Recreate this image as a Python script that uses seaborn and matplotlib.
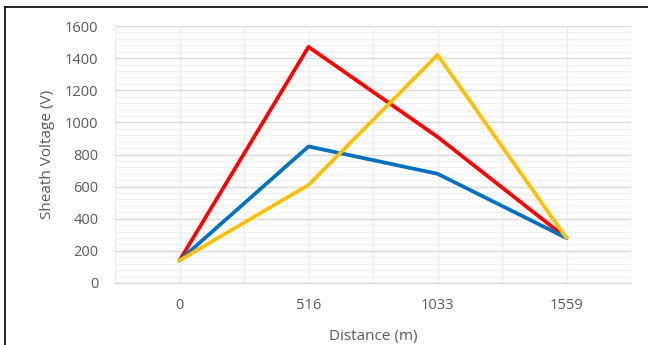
import matplotlib
matplotlib.use("Agg")
import matplotlib.pyplot as plt
from matplotlib.lines import Line2D
from matplotlib.ticker import MultipleLocator
import numpy as np
import pandas as pd
import seaborn as sns

# Sheath voltage along the cable route
distances = ["0", "516", "1033", "1559"]
series_names = ["Case A", "Case B", "Case C"]
case_a = [140, 1470, 910, 280]   # red
case_b = [140, 850, 680, 280]    # blue
case_c = [140, 610, 1420, 280]   # yellow
colors = {"Case A": "#FF0000", "Case B": "#0070C0", "Case C": "#FFC000"}

rows = []
for name, vals in zip(series_names, [case_a, case_b, case_c]):
    for i, (d, v) in enumerate(zip(distances, vals)):
        rows.append({"pos": i, "distance": d, "voltage": v, "series": name})
df = pd.DataFrame(rows)

sns.set_theme(style="white")
plt.rcParams["font.family"] = ["Open Sans", "DejaVu Sans"]

fig = plt.figure(figsize=(6.48, 3.45), dpi=100)
ax = fig.add_axes([115 / 648, 1 - 283 / 345, (631 - 115) / 648, (283 - 26) / 345])

# gridlines first so the data lines sit on top
ax.set_ylim(0, 1600)
ax.set_xlim(-0.5, len(distances) - 0.5)
ax.yaxis.set_major_locator(MultipleLocator(200))
ax.yaxis.set_minor_locator(MultipleLocator(40))
ax.xaxis.set_major_locator(MultipleLocator(1))
ax.xaxis.set_minor_locator(MultipleLocator(0.5))
ax.grid(which="minor", axis="y", color="#F2F2F2", linewidth=1.0)
ax.grid(which="major", axis="y", color="#D9D9D9", linewidth=1.0)
ax.grid(which="both", axis="x", color="#EDEDED", linewidth=1.0)
ax.set_axisbelow(True)

sns.lineplot(data=df, x="pos", y="voltage", hue="series", palette=colors,
             linewidth=2.7, legend=False, ax=ax, sort=False)

ax.set_xticks(range(len(distances)))
ax.set_xticklabels(distances)
ax.tick_params(which="both", length=0, colors="#595959", labelsize=10.5)
ax.tick_params(axis="x", pad=11)
ax.tick_params(axis="y", pad=12)
for lbl in ax.get_xticklabels() + ax.get_yticklabels():
    lbl.set_color("#595959")

ax.set_xlabel("Distance (m)", color="#595959", fontsize=11, labelpad=11)
ax.set_ylabel("Sheath Voltage (V)", color="#595959", fontsize=11, labelpad=7)

for side in ["left", "right", "top"]:
    ax.spines[side].set_visible(False)
ax.spines["bottom"].set_color("#D9D9D9")
ax.spines["bottom"].set_linewidth(1.0)

# outer frame (top and left edges)
fig.add_artist(Line2D([4.5 / 648, 1.0], [1 - 6.5 / 345, 1 - 6.5 / 345],
                      transform=fig.transFigure, color="black", linewidth=1.2))
fig.add_artist(Line2D([4.5 / 648, 4.5 / 648], [0.0, 1 - 6.5 / 345],
                      transform=fig.transFigure, color="black", linewidth=1.2))

fig.savefig("out.png", dpi=100, facecolor="white")
